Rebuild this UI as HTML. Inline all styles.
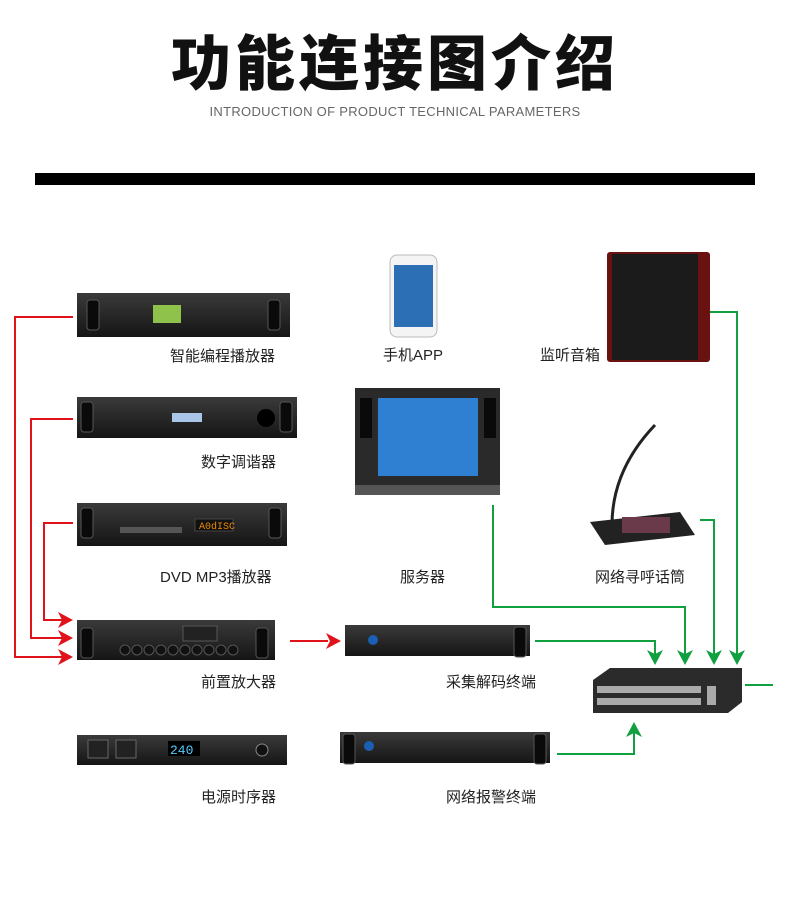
<!DOCTYPE html>
<html><head><meta charset="utf-8"><style>
body{margin:0;background:#fff;}
.w{position:relative;width:790px;height:908px;overflow:hidden;font-family:"Liberation Sans","Noto Sans CJK SC",sans-serif;}
.t{position:absolute;left:0;width:790px;text-align:center;}
.l{position:absolute;font-size:15px;color:#222;white-space:nowrap;font-family:"Liberation Sans","Noto Sans CJK SC",sans-serif;}
</style></head><body><div class="w">
<div class="t" style="top:22px;font-size:60px;font-weight:900;letter-spacing:4px;color:#111;font-family:'Noto Sans CJK SC',sans-serif;line-height:76px;">功能连接图介绍</div>
<div class="t" style="top:104px;font-size:13px;color:#666;letter-spacing:0.3px;">INTRODUCTION OF PRODUCT TECHNICAL PARAMETERS</div>
<div style="position:absolute;left:35px;top:173px;width:720px;height:12px;background:#000"></div>
<svg width="790" height="908" style="position:absolute;left:0;top:0">
<defs>
<linearGradient id="dev" x1="0" y1="0" x2="0" y2="1"><stop offset="0" stop-color="#3a3a3a"/><stop offset="1" stop-color="#151515"/></linearGradient>
<g id="h"><rect width="12" height="30" rx="3" fill="#0a0a0a" stroke="#555" stroke-width="1"/></g>
</defs>
<g>
<rect x="77" y="293" width="213" height="44" fill="url(#dev)"/><use href="#h" x="87" y="300"/><use href="#h" x="268" y="300"/>
<rect x="153" y="305" width="28" height="18" fill="#8fc24a"/>
<rect x="77" y="397" width="220" height="41" fill="url(#dev)"/><use href="#h" x="81" y="402"/><use href="#h" x="280" y="402"/>
<rect x="172" y="413" width="30" height="9" fill="#a9c5e8"/><circle cx="266" cy="418" r="9" fill="#000"/>
<rect x="77" y="503" width="210" height="43" fill="url(#dev)"/><use href="#h" x="81" y="508"/><use href="#h" x="269" y="508"/>
<rect x="120" y="527" width="62" height="6" fill="#555"/><rect x="195" y="519" width="38" height="12" fill="#111" stroke="#444"/>
<text x="199" y="529" font-size="10" fill="#f08a00" font-family="Liberation Mono">A0dISC</text>
<rect x="77" y="620" width="198" height="40" fill="url(#dev)"/><use href="#h" x="81" y="628"/><use href="#h" x="256" y="628"/>
<rect x="183" y="626" width="34" height="15" fill="#222" stroke="#555"/>
<g fill="#111" stroke="#555"><circle cx="125" cy="650" r="5"/><circle cx="137" cy="650" r="5"/><circle cx="149" cy="650" r="5"/><circle cx="161" cy="650" r="5"/><circle cx="173" cy="650" r="5"/><circle cx="185" cy="650" r="5"/><circle cx="197" cy="650" r="5"/><circle cx="209" cy="650" r="5"/><circle cx="221" cy="650" r="5"/><circle cx="233" cy="650" r="5"/></g>
<rect x="77" y="735" width="210" height="30" fill="url(#dev)"/>
<rect x="88" y="740" width="20" height="18" fill="#222" stroke="#666"/><rect x="116" y="740" width="20" height="18" fill="#222" stroke="#666"/>
<rect x="168" y="741" width="32" height="15" fill="#000"/><text x="170" y="754" font-size="13" fill="#5cf" font-family="Liberation Mono">240</text>
<circle cx="262" cy="750" r="6" fill="#111" stroke="#888"/>
<rect x="345" y="625" width="185" height="31" fill="url(#dev)"/><use href="#h" x="514" y="627"/><circle cx="373" cy="640" r="5" fill="#1a5fb4"/>
<rect x="340" y="732" width="210" height="31" fill="url(#dev)"/><use href="#h" x="343" y="734"/><use href="#h" x="534" y="734"/><circle cx="369" cy="746" r="5" fill="#1a5fb4"/>
</g>
<rect x="390" y="255" width="47" height="82" rx="7" fill="#f4f4f4" stroke="#bbb"/>
<rect x="394" y="265" width="39" height="62" fill="#2d6fb5"/>
<rect x="607" y="252" width="103" height="110" rx="3" fill="#6a1212"/>
<rect x="612" y="254" width="86" height="106" fill="#1b1b1b"/>
<rect x="355" y="388" width="145" height="107" fill="#2a2a2a"/>
<rect x="378" y="398" width="100" height="78" fill="#2f7fd2"/>
<rect x="360" y="398" width="12" height="40" fill="#0a0a0a"/><rect x="484" y="398" width="12" height="40" fill="#0a0a0a"/>
<rect x="355" y="485" width="145" height="10" fill="#555"/>
<path d="M590 522 L680 512 L695 535 L605 545 Z" fill="#222"/>
<rect x="622" y="517" width="48" height="16" fill="#6a3a4a"/>
<path d="M612 525 Q612 470 655 425" stroke="#222" stroke-width="3" fill="none"/>
<path d="M593 680 L610 668 L742 668 L742 702 L728 713 L593 713 Z" fill="#2b2b2b"/>
<g fill="#aaa"><rect x="597" y="686" width="104" height="7"/><rect x="597" y="698" width="104" height="7"/><rect x="707" y="686" width="9" height="19"/></g>
<g stroke="#e0131b" stroke-width="2" fill="none">
<polyline points="73,317 15,317 15,657 62,657"/>
<polyline points="73,419 31,419 31,638 62,638"/>
<polyline points="73,523 44,523 44,620 62,620"/>
<line x1="290" y1="641" x2="328" y2="641"/>
</g>
<g fill="#e0131b">
<path d="M73,657 L58,649 L62,657 L58,665Z"/><path d="M73,638 L58,630 L62,638 L58,646Z"/><path d="M73,620 L58,612 L62,620 L58,628Z"/><path d="M341,641 L326,633 L330,641 L326,649Z"/>
</g>
<g stroke="#10a040" stroke-width="2" fill="none">
<polyline points="493,505 493,607 685,607 685,655"/>
<polyline points="535,641 655,641 655,655"/>
<polyline points="700,520 714,520 714,655"/>
<polyline points="710,312 737,312 737,655"/>
<polyline points="557,754 634,754 634,730"/>
<line x1="745" y1="685" x2="773" y2="685"/>
</g>
<g fill="#10a040">
<path d="M655,665 L647,650 L655,654 L663,650Z"/><path d="M685,665 L677,650 L685,654 L693,650Z"/><path d="M714,665 L706,650 L714,654 L722,650Z"/><path d="M737,665 L729,650 L737,654 L745,650Z"/><path d="M634,722 L626,737 L634,733 L642,737Z"/>
</g>
</svg>
<div class="l" style="left:170px;top:345px">智能编程播放器</div>
<div class="l" style="left:201px;top:451px">数字调谐器</div>
<div class="l" style="left:160px;top:566px">DVD MP3播放器</div>
<div class="l" style="left:201px;top:671px">前置放大器</div>
<div class="l" style="left:201px;top:786px">电源时序器</div>
<div class="l" style="left:383px;top:344px">手机APP</div>
<div class="l" style="left:540px;top:344px">监听音箱</div>
<div class="l" style="left:400px;top:566px">服务器</div>
<div class="l" style="left:595px;top:566px">网络寻呼话筒</div>
<div class="l" style="left:446px;top:671px">采集解码终端</div>
<div class="l" style="left:446px;top:786px">网络报警终端</div>
</div></body></html>
